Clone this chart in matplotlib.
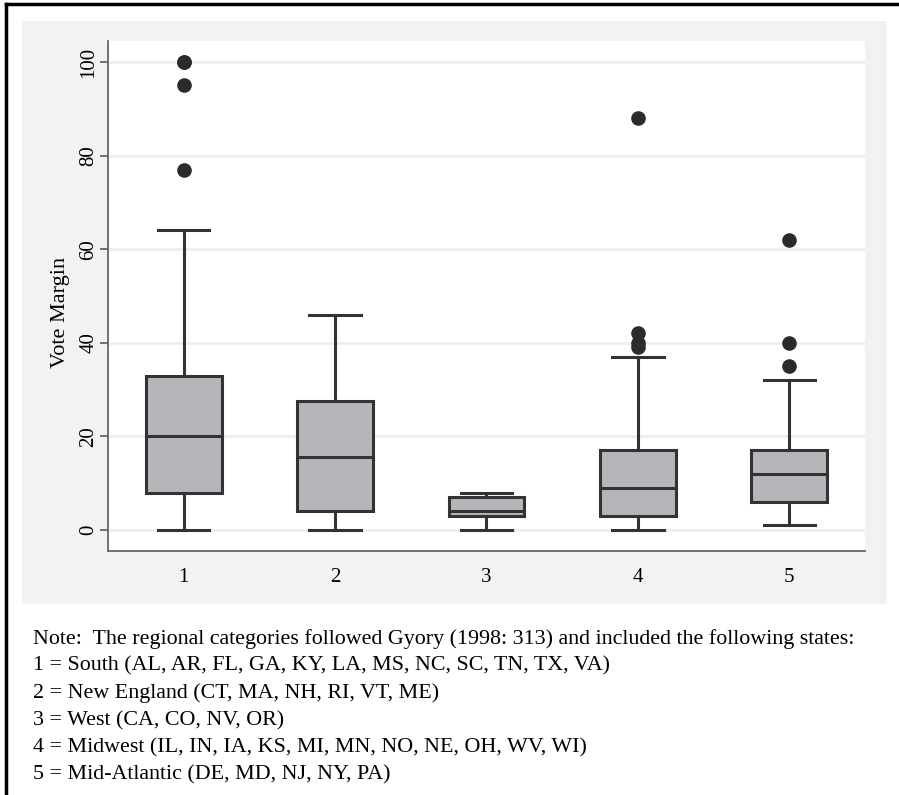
import matplotlib
matplotlib.use("Agg")
import matplotlib.pyplot as plt
from matplotlib.patches import Rectangle
from matplotlib.lines import Line2D

plt.rcParams['font.family'] = ['Liberation Serif', 'DejaVu Serif']

categories = ["1", "2", "3", "4", "5"]
whislo = [0, 0, 0, 0, 1]
q1 = [8, 4, 3, 3, 6]
med = [20, 15.5, 4, 9, 12]
q3 = [33, 27.5, 7, 17, 17]
whishi = [64, 46, 8, 37, 32]
outliers = [[77, 95, 100, 100], [], [], [39, 40, 42, 88], [35, 40, 62]]
yticks = [0, 20, 40, 60, 80, 100]
note_lines = [
    "Note:  The regional categories followed Gyory (1998: 313) and included the following states:",
    "1 = South (AL, AR, FL, GA, KY, LA, MS, NC, SC, TN, TX, VA)",
    "2 = New England (CT, MA, NH, RI, VT, ME)",
    "3 = West (CA, CO, NV, OR)",
    "4 = Midwest (IL, IN, IA, KS, MI, MN, NO, NE, OH, WV, WI)",
    "5 = Mid-Atlantic (DE, MD, NJ, NY, PA)",
]

W, H = 899, 795
fig = plt.figure(figsize=(W / 100, H / 100), dpi=100)
fig.patch.set_facecolor("white")

def fx(x):
    return x / W

def fy(y):
    return 1 - y / H

# gray graph region
fig.patches.append(Rectangle((fx(22), fy(604)), fx(887) - fx(22), fy(21) - fy(604),
                             transform=fig.transFigure, facecolor="#f1f2f4",
                             edgecolor="none", zorder=-10))
# outer border (top and left only)
fig.lines.append(Line2D([fx(6), fx(899)], [fy(4), fy(4)], transform=fig.transFigure,
                        color="black", lw=2.5))
fig.lines.append(Line2D([fx(6), fx(6)], [fy(4), fy(795)], transform=fig.transFigure,
                        color="black", lw=2.5))

ax_l, ax_r, ax_t, ax_b = 108, 865, 41, 551
ax = fig.add_axes([fx(ax_l), fy(ax_b), fx(ax_r) - fx(ax_l), fy(ax_t) - fy(ax_b)])
ax.set_facecolor("white")
ax.set_zorder(5)

stats = []
for i, c in enumerate(categories):
    stats.append(dict(label=c, whislo=whislo[i], q1=q1[i], med=med[i], q3=q3[i],
                      whishi=whishi[i], fliers=outliers[i]))

edge = "#333333"
ax.bxp(stats, positions=range(1, 6), widths=0.5, patch_artist=True, showfliers=True,
       boxprops=dict(facecolor="#b5b6b9", edgecolor=edge, linewidth=2.2),
       medianprops=dict(color=edge, linewidth=2.2),
       whiskerprops=dict(color=edge, linewidth=2.2),
       capprops=dict(color=edge, linewidth=2.2),
       capwidths=0.34,
       flierprops=dict(marker="o", markerfacecolor="#2b2b2b", markeredgecolor="#2b2b2b",
                       markersize=9.5))

ax.set_xlim(0.5, 5.5)
ax.set_ylim(-4.5, 104.5)
ax.set_yticks(yticks)
ax.set_yticklabels([str(t) for t in yticks], rotation=90, va="center")
ax.grid(axis="y", color="#eeeeee", linewidth=2, zorder=0)
ax.set_axisbelow(True)
for s in ["top", "right"]:
    ax.spines[s].set_visible(False)
for s in ["left", "bottom"]:
    ax.spines[s].set_color("#666666")
    ax.spines[s].set_linewidth(1.3)
ax.tick_params(axis="y", length=6, width=1.3, color="#666666", labelsize=15, pad=1)
ax.tick_params(axis="x", length=0, labelsize=15, pad=12)
ax.set_ylabel("Vote Margin", fontsize=16)
ax.yaxis.label.set_va("center")
ax.yaxis.set_label_coords((60 - ax_l) / (ax_r - ax_l), (ax_b - 312) / (ax_b - ax_t))

y0 = 639
for k, line in enumerate(note_lines):
    fig.text(fx(33), fy(y0 + 27.2 * k), line, fontsize=15.8, ha="left", va="center")

fig.savefig("out.png", dpi=100)
